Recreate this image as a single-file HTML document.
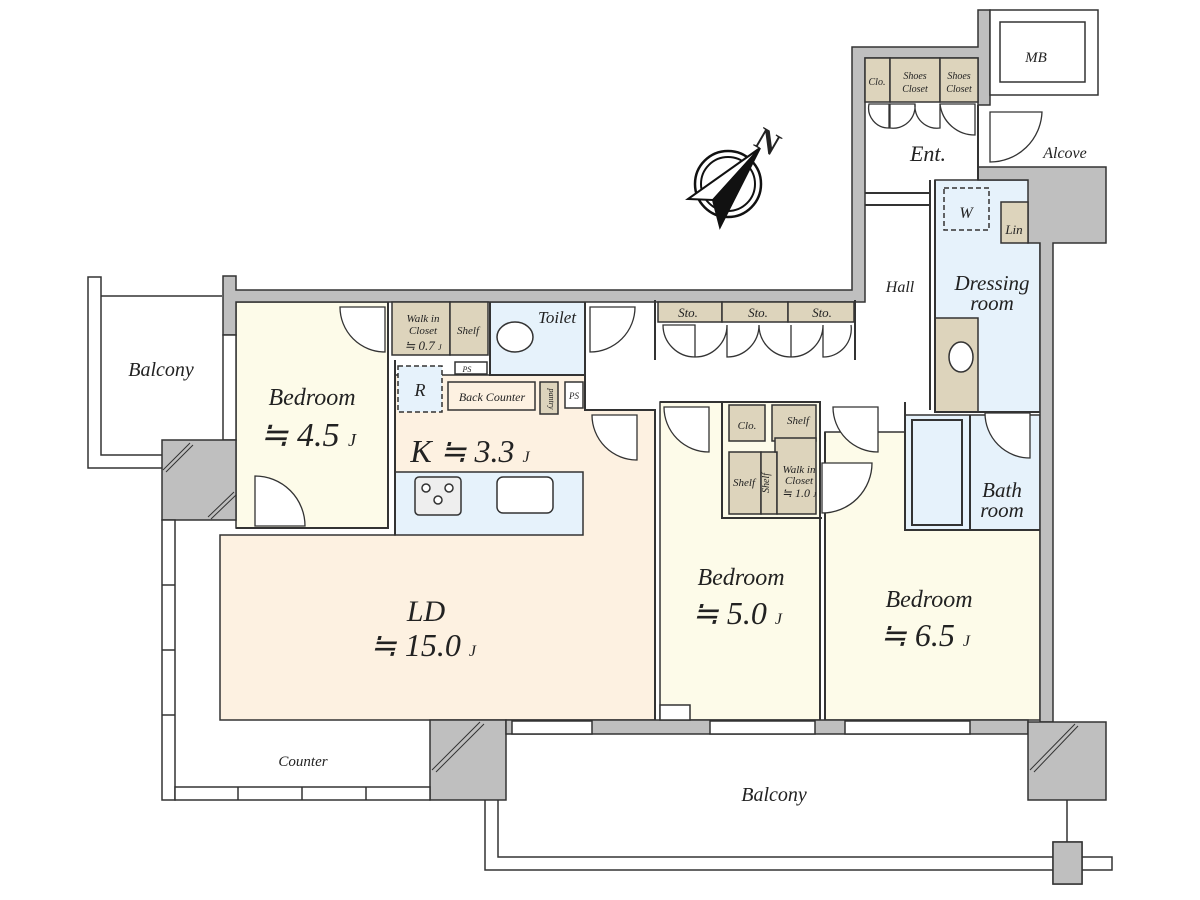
<!DOCTYPE html>
<html><head><meta charset="utf-8"><style>
html,body{margin:0;padding:0;background:#fff}
svg{display:block}
text{font-family:"Liberation Serif",serif;font-style:italic;fill:#222}
</style></head><body>
<svg width="1200" height="900" viewBox="0 0 1200 900" xmlns="http://www.w3.org/2000/svg">
<g stroke="#333" stroke-width="1.5">
<!-- left balcony frame -->
<path d="M88 277 H101 V455 H222 V468 H88 Z" fill="#fff"/>
<path d="M101 296 H222" fill="none"/>
<!-- room fills -->
<rect x="236" y="302" width="152" height="226" fill="#fdfbe9"/>
<path d="M220 535 H395 V375 H585 V410 H655 V720 H220 Z" fill="#fdf1e1"/>
<rect x="395" y="472" width="188" height="63" fill="#e6f2fb"/>
<rect x="490" y="302" width="95" height="73" fill="#e6f2fb"/>
<rect x="660" y="402" width="160" height="318" fill="#fdfbe9"/>
<rect x="825" y="432" width="215" height="288" fill="#fdfbe9"/>
<rect x="935" y="180" width="105" height="232" fill="#e6f2fb"/>
<rect x="905" y="415" width="135" height="115" fill="#e6f2fb"/>
<!-- walls -->
<g fill="#bfbfbf">
<path d="M223 276 H236 V290 H852 V47 H978 V10 H990 V105 H978 V58 H865 V302 H236 V335 H223 Z"/>
<rect x="223" y="335" width="13" height="105" fill="#fff"/>
<rect x="162" y="440" width="74" height="80"/>
<path d="M978 167 H1106 V243 H1053 V722 H1040 V243 H1028 V180 H978 Z"/>
<rect x="430" y="720" width="76" height="80"/>
<rect x="506" y="720" width="522" height="14"/>
<rect x="1028" y="722" width="78" height="78"/>
<rect x="1053" y="842" width="29" height="42"/>
</g>
<!-- windows -->
<rect x="162" y="520" width="13" height="280" fill="#fff"/>
<path d="M162 585 H175 M162 650 H175 M162 715 H175" fill="none"/>
<rect x="175" y="787" width="255" height="13" fill="#fff"/>
<path d="M238 787 V800 M302 787 V800 M366 787 V800" fill="none"/>
<rect x="512" y="721" width="80" height="13" fill="#fff"/>
<rect x="845" y="721" width="125" height="13" fill="#fff"/>
<rect x="710" y="721" width="105" height="13" fill="#fff"/>
<!-- MB -->
<rect x="990" y="10" width="108" height="85" fill="#fff"/>
<rect x="1000" y="22" width="85" height="60" fill="#fff"/>
<!-- balcony rail -->
<path d="M485 800 V870 H1112 V857 H498 V800" fill="none"/>
<path d="M1067 800 V842" fill="none"/>
<rect x="1053" y="842" width="29" height="42" fill="#bfbfbf"/>
<!-- closets tan -->
<g fill="#ddd4bc">
<rect x="865" y="58" width="25" height="44"/><rect x="890" y="58" width="50" height="44"/><rect x="940" y="58" width="38" height="44"/>
<rect x="1001" y="202" width="27" height="41"/>
<rect x="935" y="318" width="43" height="94"/>
<rect x="392" y="302" width="58" height="53"/><rect x="450" y="302" width="38" height="53"/>
<rect x="540" y="382" width="18" height="32"/>
<rect x="658" y="302" width="64" height="20"/><rect x="722" y="302" width="66" height="20"/><rect x="788" y="302" width="66" height="20"/>
<rect x="729" y="405" width="36" height="36"/><rect x="772" y="405" width="44" height="36"/>
<rect x="729" y="452" width="32" height="62"/><rect x="761" y="452" width="16" height="62"/><path d="M777 452 H775 V438 H816 V514 H777 Z"/>
</g>
<!-- interior walls -->
<g fill="none" stroke-width="2">
<path d="M388 302 V528 H236"/>
<path d="M395 360 V535"/>
<path d="M585 302 V410 H655 V720"/>
<path d="M660 402 H820 V720"/>
<path d="M722 402 V518 H822"/>
<path d="M825 432 V720"/>
<path d="M905 402 V530 H1040"/>
<path d="M935 180 V412 H1040"/>
<path d="M930 180 V410"/>
<path d="M865 193 H930 M865 205 H930"/>
<path d="M978 105 V180"/>
<path d="M490 302 V375 H585"/>
<path d="M655 300 V360"/>
<path d="M855 300 V360"/>
<path d="M912 420 H962 V525 H912 Z"/>
<path d="M970 415 V530"/>
</g>
<rect x="448" y="382" width="87" height="28" fill="#fdf1e1"/>
<rect x="455" y="362" width="32" height="12" fill="#fff"/>
<rect x="565" y="382" width="18" height="26" fill="#fff"/>
<rect x="398" y="366" width="44" height="46" fill="#e6f2fb" stroke-dasharray="5,3"/>
<rect x="944" y="188" width="45" height="42" fill="none" stroke-dasharray="5,3"/>
<rect x="415" y="477" width="46" height="38" rx="4" fill="#eee"/>
<circle cx="426" cy="488" r="4" fill="#fff"/><circle cx="449" cy="488" r="4" fill="#fff"/><circle cx="438" cy="500" r="4" fill="#fff"/>
<rect x="497" y="477" width="56" height="36" rx="6" fill="#fff"/>
<ellipse cx="515" cy="337" rx="18" ry="15" fill="#fff"/>
<ellipse cx="961" cy="357" rx="12" ry="15" fill="#fff"/>
<rect x="660" y="705" width="30" height="15" fill="#fff"/>
<!-- door swings -->
<g fill="#fff" stroke-width="1.3">
<path d="M340 307 A45 45 0 0 0 385 352 V307 Z"/>
<path d="M255 476 A50 50 0 0 1 305 526 H255 Z"/>
<path d="M590 307 V352 A45 45 0 0 0 635 307 Z"/>
<path d="M592 415 A45 45 0 0 0 637 460 V415 Z"/>
<path d="M664 407 A45 45 0 0 0 709 452 V407 Z"/>
<path d="M833 407 A45 45 0 0 0 878 452 V407 Z"/>
<path d="M822 463 V513 A50 50 0 0 0 872 463 Z"/>
<path d="M985 413 A45 45 0 0 0 1030 458 V413 Z"/>
<path d="M990 112 V162 A52 52 0 0 0 1042 112 Z"/>
<path d="M869 104 A20 20 0 0 0 889 128 V104 Z"/>
<path d="M890 104 V128 A22 22 0 0 0 915 104 Z M915 104 A22 22 0 0 0 940 128 V104"/>
<path d="M940 104 A35 35 0 0 0 975 135 V104 Z"/>
<path d="M663 325 A32 32 0 0 0 695 357 V325 Z M695 357 A32 32 0 0 0 727 325 M727 325 V357 A32 32 0 0 0 759 325 M759 325 A32 32 0 0 0 791 357 V325 M791 357 A32 32 0 0 0 823 325 M823 325 V357 A28 28 0 0 0 851 325"/>
</g>
</g>
<!-- hatches on corners -->
<g stroke="#333" stroke-width="1">
<path d="M163 470 L190 443 M166 472 L193 445 M208 517 L234 492 M211 519 L236 495 M432 770 L480 722 M436 772 L484 724 M1030 770 L1075 724 M1034 772 L1078 726"/>
</g>
<!-- compass -->
<g stroke="#111" stroke-width="2.5" fill="none">
<circle cx="728" cy="184" r="33"/><circle cx="728" cy="184" r="27" stroke-width="2"/>
<path d="M760 148 L688 199 L713 200 Z" fill="#fff" stroke-width="2"/>
<path d="M760 148 L713 200 L720 227 Z" fill="#111" stroke-width="2"/>
</g>
<text x="757" y="152" font-size="32" font-weight="bold" style="font-style:normal" transform="rotate(30 768 140)">N</text>
<!-- labels -->
<g text-anchor="middle">
<text x="1036" y="62" font-size="15">MB</text>
<text x="877" y="85" font-size="10">Clo.</text>
<text x="915" y="79" font-size="10">Shoes</text><text x="915" y="92" font-size="10">Closet</text>
<text x="959" y="79" font-size="10">Shoes</text><text x="959" y="92" font-size="10">Closet</text>
<text x="928" y="161" font-size="22">Ent.</text>
<text x="1065" y="158" font-size="16">Alcove</text>
<text x="966" y="218" font-size="16">W</text>
<text x="1014" y="234" font-size="13">Lin</text>
<text x="900" y="292" font-size="16">Hall</text>
<text x="992" y="290" font-size="21">Dressing</text>
<text x="992" y="310" font-size="21">room</text>
<text x="1002" y="497" font-size="21">Bath</text>
<text x="1002" y="517" font-size="21">room</text>
<text x="161" y="376" font-size="20">Balcony</text>
<text x="312" y="405" font-size="24">Bedroom</text>
<text x="308" y="446" font-size="34">≒ 4.5 <tspan font-size="18">J</tspan></text>
<text x="423" y="322" font-size="11">Walk in</text><text x="423" y="334" font-size="11">Closet</text><text x="423" y="350" font-size="13">≒ 0.7 <tspan font-size="8">J</tspan></text>
<text x="468" y="334" font-size="11">Shelf</text>
<text x="557" y="323" font-size="17">Toilet</text>
<text x="467" y="372" font-size="8">PS</text>
<text x="420" y="396" font-size="18">R</text>
<text x="492" y="401" font-size="12">Back Counter</text>
<text x="574" y="399" font-size="9">PS</text>
<text x="549" y="399" font-size="8" transform="rotate(90 549 399)">pantry</text>
<text x="470" y="462" font-size="32">K ≒ 3.3 <tspan font-size="16">J</tspan></text>
<text x="426" y="621" font-size="30">LD</text>
<text x="423" y="656" font-size="32">≒ 15.0 <tspan font-size="16">J</tspan></text>
<text x="303" y="766" font-size="15">Counter</text>
<text x="688" y="317" font-size="13">Sto.</text><text x="758" y="317" font-size="13">Sto.</text><text x="822" y="317" font-size="13">Sto.</text>
<text x="747" y="429" font-size="11">Clo.</text>
<text x="798" y="424" font-size="11">Shelf</text>
<text x="744" y="486" font-size="11">Shelf</text>
<text x="769" y="483" font-size="10" transform="rotate(-90 769 483)">Shelf</text>
<text x="799" y="473" font-size="11">Walk in</text><text x="799" y="484" font-size="11">Closet</text><text x="799" y="497" font-size="12">≒ 1.0 <tspan font-size="7">J</tspan></text>
<text x="741" y="585" font-size="24">Bedroom</text>
<text x="737" y="624" font-size="32">≒ 5.0 <tspan font-size="16">J</tspan></text>
<text x="929" y="607" font-size="24">Bedroom</text>
<text x="925" y="646" font-size="32">≒ 6.5 <tspan font-size="16">J</tspan></text>
<text x="774" y="801" font-size="20">Balcony</text>
</g>
</svg>
</body></html>
